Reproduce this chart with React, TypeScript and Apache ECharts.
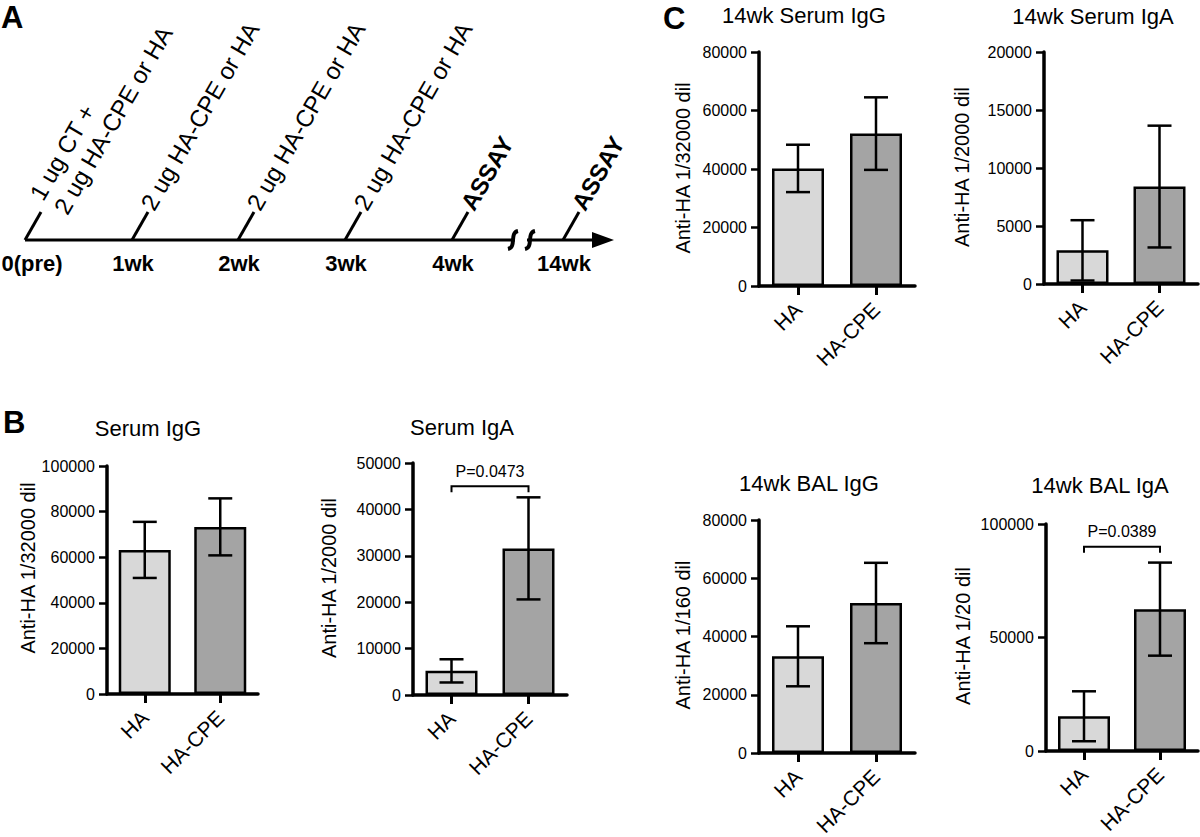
import React, { useEffect, useRef } from 'react';
import * as echarts from 'echarts';

// ---------- data ----------
const groups = ['HA', 'HA-CPE'];

const serumIgGMean = [63200, 73300];
const serumIgGErr = [12300, 12500];
const serumIgAMean = [5200, 31600];
const serumIgAErr = [2500, 11000];
const wk14SerumIgGMean = [40200, 52100];
const wk14SerumIgGErr = [8100, 12400];
const wk14SerumIgAMean = [2900, 8400];
const wk14SerumIgAErr = [2600, 5250];
const wk14BalIgGMean = [33200, 51500];
const wk14BalIgGErr = [10300, 13800];
const wk14BalIgAMean = [15300, 62500];
const wk14BalIgAErr = [11000, 20500];

const panelTitles = ['Serum IgG', 'Serum IgA', '14wk Serum IgG', '14wk Serum IgA', '14wk BAL IgG', '14wk BAL IgA'];
const yAxisNames = ['Anti-HA 1/32000 dil', 'Anti-HA 1/2000 dil', 'Anti-HA 1/32000 dil', 'Anti-HA 1/2000 dil', 'Anti-HA 1/160 dil', 'Anti-HA 1/20 dil'];
const yMaxes = [100000, 50000, 80000, 20000, 80000, 100000];
const ySteps = [20000, 10000, 20000, 5000, 20000, 50000];
const means = [serumIgGMean, serumIgAMean, wk14SerumIgGMean, wk14SerumIgAMean, wk14BalIgGMean, wk14BalIgAMean];
const errs = [serumIgGErr, serumIgAErr, wk14SerumIgGErr, wk14SerumIgAErr, wk14BalIgGErr, wk14BalIgAErr];
// significance brackets
const sigPanels = [1, 5];
const sigLevels = [45000, 90000];
const sigLabels = ['P=0.0473', 'P=0.0389'];

// timeline (panel A)
const timepoints = ['0(pre)', '1wk', '2wk', '3wk', '4wk', '14wk'];
const timeEvents = [
  '1 ug CT +\n2 ug HA-CPE or HA',
  '2 ug HA-CPE or HA',
  '2 ug HA-CPE or HA',
  '2 ug HA-CPE or HA',
  'ASSAY',
  'ASSAY',
];

const FONT = '"Liberation Sans", Arial, Helvetica, sans-serif';

export default function App() {
  const ref = useRef<HTMLDivElement>(null);

  useEffect(() => {
    const chart = echarts.init(ref.current!, null, { renderer: 'svg' });

    // ---------- layout ----------
    const grids = [
      { left: 107, top: 466, width: 151, height: 228 },
      { left: 413, top: 463, width: 154, height: 232 },
      { left: 759, top: 52, width: 156, height: 234 },
      { left: 1044, top: 52, width: 154, height: 232 },
      { left: 759, top: 520, width: 156, height: 233 },
      { left: 1046, top: 524, width: 152, height: 227 },
    ];
    const titlePos = [[148, 428], [462, 427], [804, 15], [1093, 16], [809, 483], [1100, 485]];
    const yNamePos = [[28, 568], [329, 578], [683, 168], [962, 167], [683, 635], [963, 636]];
    const barColors = ['#d8d8d8', '#a4a4a4'];

    const txt = (text: string, x: number, y: number, size: number, o: any = {}) => ({
      type: 'text',
      x,
      y,
      rotation: o.rotation || 0,
      silent: true,
      style: {
        text,
        fontSize: size,
        fontFamily: FONT,
        fontWeight: o.bold ? 'bold' : 'normal',
        fill: '#000',
        align: o.align || 'center',
        verticalAlign: o.valign || 'middle',
        lineHeight: o.lineHeight,
      },
    });

    const elements: any[] = [];
    // panel letters
    elements.push(txt('A', 1, 17, 31, { bold: true, align: 'left', lineHeight: 24 }));
    elements.push(txt('B', 3, 422, 31, { bold: true, align: 'left', lineHeight: 24 }));
    elements.push(txt('C', 663, 18, 31, { bold: true, align: 'left', lineHeight: 24 }));

    // titles & y names
    panelTitles.forEach((t, i) => {
      elements.push(txt(t, titlePos[i][0], titlePos[i][1], 22));
      elements.push(txt(yAxisNames[i], yNamePos[i][0], yNamePos[i][1], 20, { rotation: Math.PI / 2 }));
    });

    // timeline
    const tlY = 240;
    const tickXs = [25, 132, 238, 345, 452, 563];
    elements.push({ type: 'line', silent: true, shape: { x1: 25, y1: tlY, x2: 600, y2: tlY }, style: { stroke: '#000', lineWidth: 3 } });
    elements.push({ type: 'polygon', silent: true, shape: { points: [[592, 232], [614, tlY], [592, 248]] }, style: { fill: '#000' } });
    elements.push({ type: 'rect', silent: true, shape: { x: 515, y: 235, width: 12, height: 10 }, style: { fill: '#fff' } });
    [513, 530].forEach((bx) => {
      elements.push({
        type: 'bezierCurve',
        silent: true,
        shape: { x1: bx - 5, y1: 249, x2: bx + 5, y2: 231, cpx1: bx + 4, cpy1: 247, cpx2: bx - 4, cpy2: 233 },
        style: { stroke: '#000', lineWidth: 4, fill: 'none' },
      });
    });
    timepoints.forEach((tp, i) => {
      const tx = tickXs[i];
      elements.push({ type: 'line', silent: true, shape: { x1: tx, y1: tlY, x2: tx + 16, y2: tlY - 28 }, style: { stroke: '#000', lineWidth: 3 } });
      elements.push(txt(tp, tx + (i === 0 ? 7 : 1), 263, 22, { bold: true }));
      const ev = timeEvents[i];
      const multi = ev.indexOf('\n') >= 0;
      elements.push(
        txt(ev, tx + (multi ? 23 : 15), multi ? 205 : 208, 24, {
          rotation: Math.PI / 3,
          align: 'left',
          bold: ev === 'ASSAY',
          lineHeight: 28,
        })
      );
    });

    const renderErr = (params: any, api: any) => {
      const x = api.value(0);
      const m = api.value(1);
      const e = api.value(2);
      const top = api.coord([x, m + e]);
      const bot = api.coord([x, m - e]);
      const hw = 12;
      const style = { stroke: '#000', lineWidth: 2.5 };
      return {
        type: 'group',
        children: [
          { type: 'line', shape: { x1: top[0], y1: top[1], x2: bot[0], y2: bot[1] }, style },
          { type: 'line', shape: { x1: top[0] - hw, y1: top[1], x2: top[0] + hw, y2: top[1] }, style },
          { type: 'line', shape: { x1: bot[0] - hw, y1: bot[1], x2: bot[0] + hw, y2: bot[1] }, style },
        ],
      };
    };

    const makeBracket = (label: string) => (params: any, api: any) => {
      const lvl = api.value(2);
      const p1 = api.coord([api.value(0), lvl]);
      const p2 = api.coord([api.value(1), lvl]);
      const drop = 6;
      return {
        type: 'group',
        children: [
          {
            type: 'polyline',
            shape: { points: [[p1[0], p1[1] + drop], [p1[0], p1[1]], [p2[0], p1[1]], [p2[0], p1[1] + drop]] },
            style: { stroke: '#000', lineWidth: 2, fill: 'none' },
          },
          {
            type: 'text',
            x: (p1[0] + p2[0]) / 2,
            y: p1[1] - 15,
            style: { text: label, fontSize: 16, fontFamily: FONT, fill: '#000', align: 'center', verticalAlign: 'middle' },
          },
        ],
      };
    };

    const series: any[] = [];
    means.forEach((mean, i) => {
      series.push({
        type: 'bar',
        xAxisIndex: i,
        yAxisIndex: i,
        barWidth: 52,
        z: 2,
        data: mean.map((v, j) => ({ value: v, itemStyle: { color: barColors[j] } })),
        itemStyle: { borderColor: '#000', borderWidth: 2.5 },
        silent: true,
      });
      series.push({
        type: 'custom',
        xAxisIndex: i,
        yAxisIndex: i,
        z: 3,
        silent: true,
        encode: { x: 0, y: 1 },
        data: mean.map((v, j) => [j, v, errs[i][j]]),
        renderItem: renderErr,
      });
    });
    sigPanels.forEach((pi, k) => {
      series.push({
        type: 'custom',
        xAxisIndex: pi,
        yAxisIndex: pi,
        z: 3,
        silent: true,
        encode: { x: [0, 1], y: 2 },
        data: [[0, 1, sigLevels[k]]],
        renderItem: makeBracket(sigLabels[k]),
      });
    });

    const option: any = {
      animation: false,
      backgroundColor: '#fff',
      textStyle: { fontFamily: FONT, color: '#000' },
      grid: grids.map((g) => ({ ...g, containLabel: false, outerBoundsMode: 'none' })),
      xAxis: grids.map((g, i) => ({
        type: 'category',
        gridIndex: i,
        data: groups,
        axisLine: { show: true, lineStyle: { color: '#000', width: 3.5 } },
        axisTick: { show: true, alignWithLabel: true, length: 9, lineStyle: { color: '#000', width: 3 } },
        axisLabel: { rotate: 45, interval: 0, fontSize: 21, margin: 20, color: '#000', fontFamily: FONT },
        splitLine: { show: false },
      })),
      yAxis: grids.map((g, i) => ({
        type: 'value',
        gridIndex: i,
        min: 0,
        max: yMaxes[i],
        interval: ySteps[i],
        axisLine: { show: true, lineStyle: { color: '#000', width: 3.5 } },
        axisTick: { show: true, length: 8, lineStyle: { color: '#000', width: 2.5 } },
        axisLabel: { fontSize: 16, margin: 12, color: '#000', fontFamily: FONT, formatter: (v: number) => String(v) },
        splitLine: { show: false },
      })),
      series,
      graphic: { elements },
    };

    chart.setOption(option);
    return () => chart.dispose();
  }, []);

  return (
    <div
      ref={ref}
      style={{ position: 'absolute', left: 0, top: 0, width: 1200, height: 837, background: '#fff' }}
    />
  );
}
